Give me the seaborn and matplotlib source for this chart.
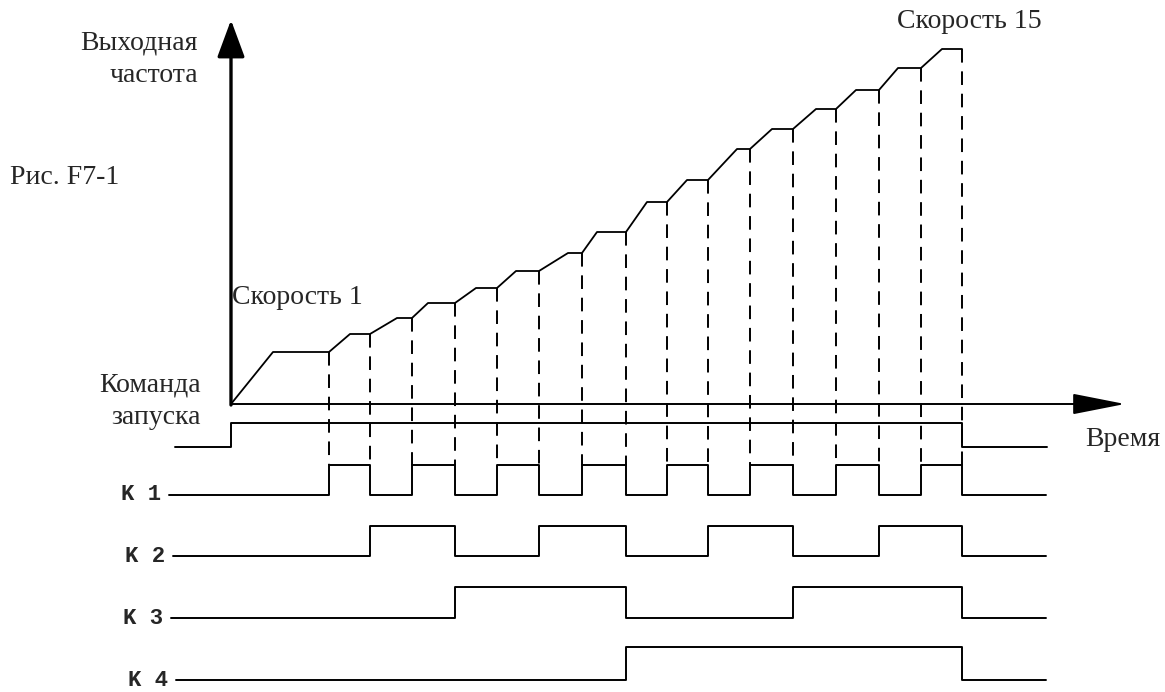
import matplotlib
matplotlib.use("Agg")
import matplotlib.pyplot as plt
import seaborn as sns

# canvas is laid out in pixel units (x to the right, y upwards from the bottom)
W, H = 1165, 692

# speed steps: where each step's plateau starts, where it ends (switch), its output frequency
step_start = [273, 350, 397, 428, 476, 516, 568, 597, 647, 687, 737, 772, 816, 856, 898, 942]
switch_x = [329, 370, 412, 455, 497, 539, 582, 626, 667, 708, 750, 793, 836, 879, 921, 962]
freq = [52, 70, 86, 101, 116, 133, 151, 172, 202, 224, 255, 275, 295, 314, 336, 355]

# run command: edges and states
run_edges = [175, 231, 962, 1047]
run_state = [0, 1, 0]

# multi-speed terminals, one state per segment (before first switch ... after last)
k1 = [0, 1, 0, 1, 0, 1, 0, 1, 0, 1, 0, 1, 0, 1, 0, 1, 0]
k2 = [0, 0, 1, 1, 0, 0, 1, 1, 0, 0, 1, 1, 0, 0, 1, 1, 0]
k3 = [0, 0, 0, 0, 1, 1, 1, 1, 0, 0, 0, 0, 1, 1, 1, 1, 0]
k4 = [0, 0, 0, 0, 0, 0, 0, 0, 1, 1, 1, 1, 1, 1, 1, 1, 0]
k_names = ["K 1", "K 2", "K 3", "K 4"]
k_start = [169, 173, 171, 176]
k_end = 1046

# layout of rows
origin_x = 231
axis_y = 288
run_base, run_amp = 245, 24
k_base = [197, 136, 74, 12]
k_amp = [30, 30, 31, 33]

sns.set_style("white")
plt.rcParams["font.family"] = ["Liberation Serif", "DejaVu Serif"]

fig = plt.figure(figsize=(W / 100, H / 100), dpi=100)
ax = fig.add_axes([0, 0, 1, 1])
ax.set_xlim(0, W)
ax.set_ylim(0, H)
ax.axis("off")

# output frequency curve
fx = [origin_x]
fy = [axis_y]
for s, e, f in zip(step_start, switch_x, freq):
    fx += [s, e]
    fy += [axis_y + f, axis_y + f]
sns.lineplot(x=fx, y=fy, sort=False, estimator=None, color="black", lw=1.3, ax=ax)

# dashed drop lines from each step end down to K1
ax.vlines(switch_x, [axis_y + f for f in freq], k_base[0] + k_amp[0],
          colors="black", lw=1.4, linestyles=(0, (7, 4.5)))

# axes with arrows
ax.annotate("", xy=(origin_x, 672), xytext=(origin_x, axis_y - 1),
            arrowprops=dict(arrowstyle="-|>,head_length=23,head_width=8.5",
                            mutation_scale=1, lw=2.4, color="black",
                            shrinkA=0, shrinkB=0))
ax.annotate("", xy=(1125, axis_y), xytext=(origin_x, axis_y),
            arrowprops=dict(arrowstyle="-|>,head_length=33,head_width=6.5",
                            mutation_scale=1, lw=1.4, color="black",
                            shrinkA=0, shrinkB=0))

# run command
rx = run_edges
ry = [run_base + run_amp * s for s in run_state + [run_state[-1]]]
sns.lineplot(x=rx, y=ry, drawstyle="steps-post", sort=False, estimator=None,
             color="black", lw=1.4, ax=ax)

# K1..K4 signals
for states, x0, base, amp, name in zip([k1, k2, k3, k4], k_start, k_base, k_amp, k_names):
    xs = [x0] + switch_x + [k_end]
    ys = [base + amp * s for s in states + [states[-1]]]
    sns.lineplot(x=xs, y=ys, drawstyle="steps-post", sort=False, estimator=None,
                 color="black", lw=1.4, ax=ax)
    ax.text(x0 - 48, base, name, ha="left", va="center", fontsize=16,
            fontweight="bold", family=["Liberation Mono", "DejaVu Sans Mono"])

# labels
fs = 20
ax.text(198, 649, "Выходная", ha="right", va="center", fontsize=fs)
ax.text(198, 616, "частота", ha="right", va="center", fontsize=fs)
ax.text(10, 514, "Рис. F7-1", ha="left", va="center", fontsize=fs)
ax.text(232, 395, "Скорость 1", ha="left", va="center", fontsize=fs)
ax.text(897, 671, "Скорость 15", ha="left", va="center", fontsize=fs)
ax.text(201, 307, "Команда", ha="right", va="center", fontsize=fs)
ax.text(201, 275, "запуска", ha="right", va="center", fontsize=fs)
ax.text(1085, 252, "Время", ha="left", va="center", fontsize=fs)

fig.savefig("out.png", dpi=100)
plt.close(fig)
